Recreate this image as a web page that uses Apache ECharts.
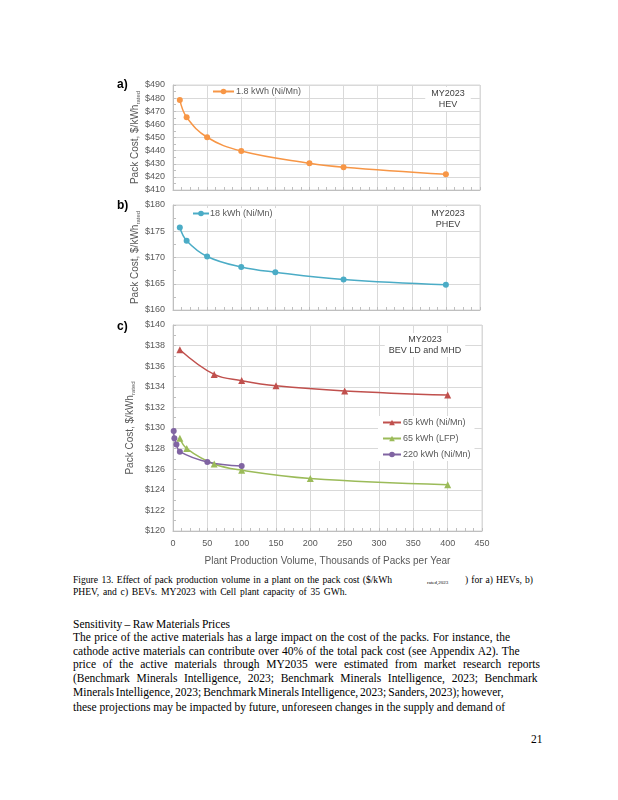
<!DOCTYPE html>
<html>
<head>
<meta charset="utf-8">
<script src="https://cdn.jsdelivr.net/npm/echarts@6/dist/echarts.min.js"></script>
<style>
html,body{margin:0;padding:0;background:#fff;}
#page{position:relative;width:618px;height:800px;overflow:hidden;background:#fff;}
#chart{position:absolute;left:0;top:0;width:618px;height:570px;}
.ln{position:absolute;white-space:nowrap;font-family:"Liberation Serif","Times New Roman",serif;color:#000;line-height:1;}
</style>
</head>
<body>
<div id="page">
<div id="chart"></div>
</div>
<script>
// ---- data ----
const xTicks = [0, 50, 100, 150, 200, 250, 300, 350, 400, 450];
const hevName = '1.8 kWh (Ni/Mn)';
const hevX = [10, 20, 50, 100, 200, 250, 400];
const hevY = [478.6, 465.4, 450.2, 439.7, 430.4, 427.4, 422.0];
const phevName = '18 kWh (Ni/Mn)';
const phevX = [10, 20, 50, 100, 150, 250, 400];
const phevY = [175.7, 173.2, 170.2, 168.2, 167.2, 165.8, 164.8];
const bevNiName = '65 kWh (Ni/Mn)';
const bevNiX = [10, 60, 100, 150, 250, 400];
const bevNiY = [137.6, 135.2, 134.6, 134.1, 133.6, 133.2];
const lfpName = '65 kWh (LFP)';
const lfpX = [10, 20, 60, 100, 200, 400];
const lfpY = [129.0, 128.0, 126.5, 125.9, 125.1, 124.5];
const mhdName = '220 kWh (Ni/Mn)';
const mhdX = [1, 2, 5, 10, 50, 100];
const mhdY = [129.7, 129.0, 128.4, 127.7, 126.7, 126.3];
const yRanges = [[410, 490, 10], [160, 180, 5], [120, 140, 2]];
const panelLabels = ['a)', 'b)', 'c)'];
const boxTexts = ['MY2023\nHEV', 'MY2023\nPHEV', 'MY2023\nBEV LD and MHD'];
const yTitle = 'Pack Cost, $/kWh';
const ySub = 'rated';
const xTitle = 'Plant Production Volume, Thousands of Packs per Year';

const captionA = 'Figure 13. Effect of pack production volume in a plant on the pack cost ($/kWh';
const captionSub = 'rated,2023';
const captionC = ') for a) HEVs, b)';
const caption2 = 'PHEV, and c) BEVs. MY2023 with Cell plant capacity of 35 GWh.';
const heading = 'Sensitivity \u2013 Raw Materials Prices';
const bodyLines = [
 'The price of the active materials has a large impact on the cost of the packs. For instance, the',
 'cathode active materials can contribute over 40% of the total pack cost (see Appendix A2). The',
 'price of the active materials through MY2035 were estimated from market research reports',
 '(Benchmark Minerals Intelligence, 2023; Benchmark Minerals Intelligence, 2023; Benchmark',
 'Minerals Intelligence, 2023; Benchmark Minerals Intelligence, 2023; Sanders, 2023); however,',
 'these projections may be impacted by future, unforeseen changes in the supply and demand of'
];
const pageNum = '21';

// ---- chart ----
const zip = (xs, ys) => xs.map((x, i) => [x, ys[i]]);
const grids = [
 {left: 173, top: 85, width: 307, height: 105},
 {left: 173, top: 205, width: 307, height: 105},
 {left: 173, top: 325, width: 309, height: 206}
];
const labelColor = '#595959';
const font = 'Liberation Sans';

const boxStyle = (text, pad) => ({text: text, font: '9px "Liberation Sans"', fill: '#404040',
  textAlign: 'center', textVerticalAlign: 'top', lineHeight: 11, backgroundColor: '#fff', padding: pad});

const option = {
 animation: false,
 grid: grids.map(g => Object.assign({show: true, borderColor: '#d9d9d9', borderWidth: 1, containLabel: false}, g)),
 xAxis: [0, 1, 2].map(i => ({
  gridIndex: i, type: 'value', min: xTicks[0], max: xTicks[xTicks.length - 1], interval: xTicks[1] - xTicks[0],
  axisLine: {show: true, lineStyle: {color: '#bfbfbf'}},
  axisTick: {show: true, inside: true, length: 3, lineStyle: {color: '#bfbfbf'}},
  minorTick: {show: true, splitNumber: 4, length: 3, lineStyle: {color: '#bfbfbf'}},
  splitLine: {show: true, lineStyle: {color: '#d9d9d9'}},
  axisLabel: {show: i === 2, color: labelColor, fontFamily: font, fontSize: 9, margin: 8},
  name: i === 2 ? xTitle : '', nameLocation: 'middle', nameGap: 25,
  nameTextStyle: {color: labelColor, fontFamily: font, fontSize: 10}
 })),
 yAxis: [0, 1, 2].map(i => ({
  gridIndex: i, type: 'value', min: yRanges[i][0], max: yRanges[i][1], interval: yRanges[i][2],
  axisLine: {show: true, lineStyle: {color: '#bfbfbf'}},
  axisTick: {show: true, inside: true, length: 3, lineStyle: {color: '#bfbfbf'}},
  minorTick: {show: true, splitNumber: 2, length: 3, lineStyle: {color: '#bfbfbf'}},
  splitLine: {show: true, lineStyle: {color: '#d9d9d9'}},
  axisLabel: {color: labelColor, fontFamily: font, fontSize: 9, margin: 8, formatter: v => '$' + v},
  name: '{m|' + yTitle + '}{s|' + ySub + '}', nameLocation: 'middle', nameGap: i === 2 ? 37 : 31,
  nameTextStyle: {
   color: labelColor, fontFamily: font, fontSize: 10,
   rich: {
    m: {fontSize: 10, lineHeight: 12, color: labelColor, fontFamily: font},
    s: {fontSize: 6, lineHeight: 6, verticalAlign: 'bottom', color: labelColor, fontFamily: font}
   }
  }
 })),
 legend: [
  {data: [hevName], left: 208, top: 86, itemWidth: 21, itemHeight: 7, backgroundColor: '#fff', padding: [1, 4],
   textStyle: {color: labelColor, fontFamily: font, fontSize: 9, padding: [0, 0, 0, -3]}},
  {data: [phevName], left: 188, top: 208, itemWidth: 16, itemHeight: 7, backgroundColor: '#fff', padding: [1, 4],
   textStyle: {color: labelColor, fontFamily: font, fontSize: 9, padding: [0, 0, 0, -4]}},
  {data: [bevNiName, lfpName, mhdName], orient: 'vertical', left: 378, top: 416, itemGap: 7, itemWidth: 18, itemHeight: 7,
   backgroundColor: '#fff', padding: [2, 4], textStyle: {color: labelColor, fontFamily: font, fontSize: 9, padding: [0, 0, 0, -3]}}
 ],
 series: [
  {name: hevName, data: zip(hevX, hevY), xAxisIndex: 0, yAxisIndex: 0, color: '#f79646'},
  {name: phevName, data: zip(phevX, phevY), xAxisIndex: 1, yAxisIndex: 1, color: '#4bacc6'},
  {name: bevNiName, data: zip(bevNiX, bevNiY), xAxisIndex: 2, yAxisIndex: 2, color: '#c0504d', symbol: 'triangle', symbolSize: 7},
  {name: lfpName, data: zip(lfpX, lfpY), xAxisIndex: 2, yAxisIndex: 2, color: '#9bbb59', symbol: 'triangle', symbolSize: 7},
  {name: mhdName, data: zip(mhdX, mhdY), xAxisIndex: 2, yAxisIndex: 2, color: '#8064a2'}
 ].map(s => Object.assign({type: 'line', smooth: 0.4, symbol: 'circle', symbolSize: 6, showSymbol: true,
   lineStyle: {width: 1.5}, z: 3}, s)),
 graphic: [
  ...panelLabels.map((t, i) => ({type: 'text', left: 117, top: [79, 200, 321][i], z: 10,
    style: {text: t, font: 'bold 12px "Liberation Sans"', fill: '#000'}})),
  {type: 'text', x: 448, y: 87, z: 10, style: boxStyle(boxTexts[0], [1, 6])},
  {type: 'text', x: 448, y: 207, z: 10, style: boxStyle(boxTexts[1], [1, 6])},
  {type: 'text', x: 425, y: 333, z: 10, style: boxStyle(boxTexts[2], [1, 4])}
 ]
};
echarts.init(document.getElementById('chart'), null, {renderer: 'canvas'}).setOption(option);

// ---- text below chart ----
const page = document.getElementById('page');
const ctx = document.createElement('canvas').getContext('2d');
function addLine(text, left, cy, size, endX) {
 const d = document.createElement('div');
 d.className = 'ln';
 d.textContent = text;
 d.style.left = left + 'px';
 d.style.top = (cy - size / 2) + 'px';
 d.style.fontSize = size + 'px';
 page.appendChild(d);
 if (endX) {
  ctx.font = size + 'px "Liberation Serif"';
  const w = ctx.measureText(text).width;
  const spaces = (text.match(/ /g) || []).length;
  const target = endX - left;
  if (spaces > 0) d.style.wordSpacing = ((target - w) / spaces) + 'px';
 }
 return d;
}
addLine(captionA, 73, 580, 9.6, 392);
addLine(captionSub, 427, 582.5, 5, 462);
addLine(captionC, 465, 580, 9.6, 533);
addLine(caption2, 73, 591.5, 9.6, 347);
addLine(heading, 73, 625, 11.5, 230);
const bodyY = [638, 651.7, 665.2, 679, 692.7, 707.7];
const bodyEnd = [510, 521, 540, 537.5, 503.5, 505];
bodyLines.forEach((t, i) => addLine(t, 73, bodyY[i], 11.5, bodyEnd[i]));
addLine(pageNum, 531, 740, 11.5);
</script>
</body>
</html>
